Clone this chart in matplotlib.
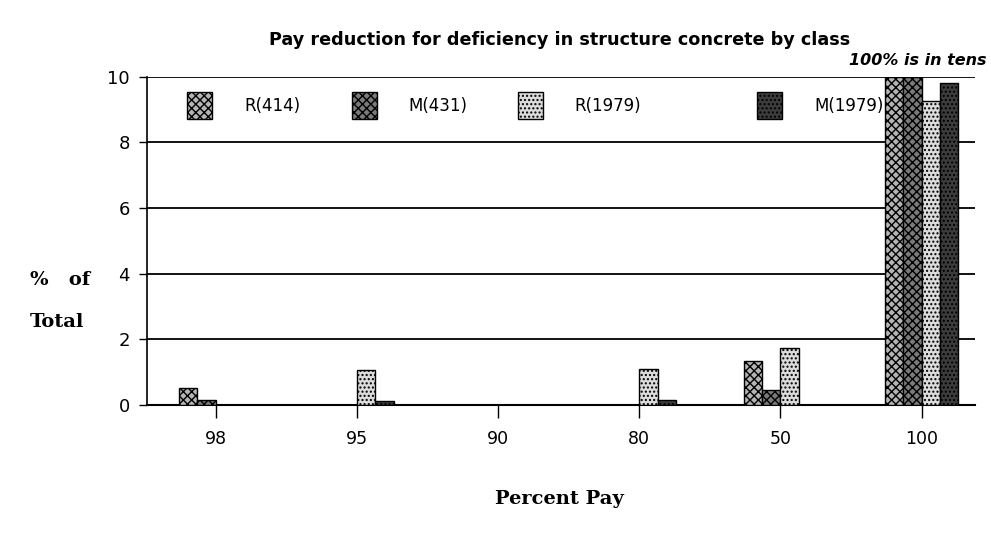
import numpy as np
import matplotlib.pyplot as plt
from matplotlib.legend import Legend

# Percent pay categories
categories = ['98', '95', '90', '80', '50', '100']
series = ['R(414)', 'M(431)', 'R(1979)', 'M(1979)']
r414 = [0.50, 0.0, 0.0, 0.0, 1.33, 10.0]
m431 = [0.14, 0.0, 0.0, 0.0, 0.45, 10.0]
r1979 = [0.0, 1.07, 0.0, 1.10, 1.73, 9.27]
m1979 = [0.0, 0.12, 0.0, 0.15, 0.0, 9.8]

colors = ['#b4b4b4', '#7a7a7a', '#dcdcdc', '#3c3c3c']
hatches = ['xxxx', 'xxxx', '....', '....']

fig = plt.figure(figsize=(9.91, 5.37), dpi=100)
ax = fig.add_axes([0.148, 0.246, 0.836, 0.611])

x = np.arange(len(categories))
w = 0.13
data = [r414, m431, r1979, m1979]
bars = []
for i, vals in enumerate(data):
    b = ax.bar(x + (i - 2) * w, vals, width=w, align='edge', color=colors[i],
               edgecolor='black', linewidth=1.0, hatch=hatches[i],
               label=series[i], zorder=3)
    bars.append(b)

ax.set_xlim(-0.49, 5.38)
ax.set_ylim(0, 10)
ax.set_yticks([0, 2, 4, 6, 8, 10])
ax.set_xticks(x)
ax.set_xticklabels(categories)
ax.yaxis.grid(True, color='black', linewidth=1.3, zorder=0)
ax.set_axisbelow(True)
for s in ['top', 'right']:
    ax.spines[s].set_visible(False)
ax.spines['left'].set_linewidth(1.2)
ax.spines['bottom'].set_linewidth(1.5)
ax.tick_params(axis='x', length=9, width=1, pad=9, labelsize=12.5)
ax.tick_params(axis='y', length=6, width=1, pad=6, labelsize=13)

# legend entries are spaced unevenly in the original, so one legend each
leg_x = [0.049, 0.248, 0.448, 0.737]
for b, lab, lx in zip(bars, series, leg_x):
    leg = Legend(ax, [b], [lab], loc='upper left', bbox_to_anchor=(lx, 0.955),
                 frameon=False, handlelength=1.5, handleheight=2.2,
                 handletextpad=1.9, borderpad=0, borderaxespad=0,
                 prop={'size': 12})
    leg.set_zorder(1)
    ax.add_artist(leg)

fig.text(0.565, 0.925, 'Pay reduction for deficiency in structure concrete by class',
         ha='center', va='center', fontsize=12.7, fontweight='bold')
fig.text(0.995, 0.888, '100% is in tens', ha='right', va='center',
         fontsize=11.5, fontweight='bold', style='italic')
fig.text(0.03, 0.478, '%   of', ha='left', va='center', fontsize=14,
         fontweight='bold', family='DejaVu Serif')
fig.text(0.03, 0.40, 'Total', ha='left', va='center', fontsize=14,
         fontweight='bold', family='DejaVu Serif')
fig.text(0.565, 0.07, 'Percent Pay', ha='center', va='center', fontsize=14,
         fontweight='bold', family='DejaVu Serif')

fig.savefig('out.png', dpi=100)
